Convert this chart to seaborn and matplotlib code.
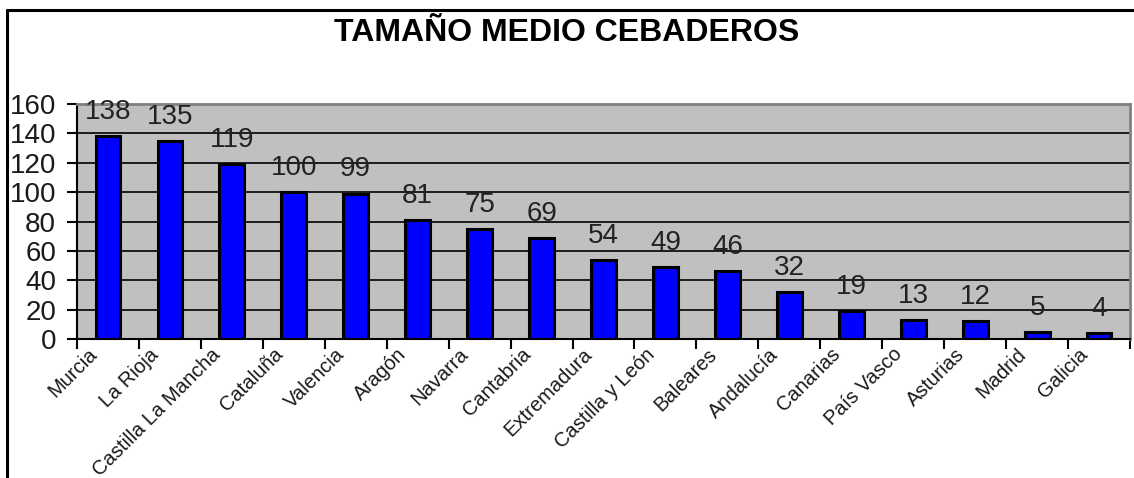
import numpy as np
import pandas as pd
import matplotlib
matplotlib.use('Agg')
import matplotlib.pyplot as plt
import matplotlib.transforms as mtransforms
from matplotlib.lines import Line2D
import seaborn as sns

# data
regiones = ['Murcia', 'La Rioja', 'Castilla La Mancha', 'Cataluña', 'Valencia',
            'Aragón', 'Navarra', 'Cantabria', 'Extremadura', 'Castilla y León',
            'Baleares', 'Andalucía', 'Canarias', 'País Vasco', 'Asturias',
            'Madrid', 'Galicia']
tamano = [138, 135, 119, 100, 99, 81, 75, 69, 54, 49, 46, 32, 19, 13, 12, 5, 4]
yticks = [0, 20, 40, 60, 80, 100, 120, 140, 160]

df = pd.DataFrame({'region': regiones, 'tamano': tamano})

sns.set_theme(style='white')
plt.rcParams['font.family'] = ['Liberation Sans', 'DejaVu Sans']

fig = plt.figure(figsize=(11.34, 4.78), dpi=100)
ax = fig.add_axes([0.0679, 0.2908, 0.9286, 0.4916])

sns.barplot(data=df, x='region', y='tamano', color='#0000ff', saturation=1,
            edgecolor='black', linewidth=2.2, width=0.4, ax=ax)

ax.bar_label(ax.containers[0], labels=[str(v) for v in tamano],
             padding=8, fontsize=20, color='#222222')

ax.set_facecolor('#c0c0c0')
ax.set_xlim(-0.5, len(regiones) - 0.5)
ax.set_ylim(0, 160)
ax.set_yticks(yticks)
ax.set_yticklabels([str(t) for t in yticks], fontsize=20, color='#1a1a1a')
ax.set_xlabel('')
ax.set_ylabel('')

# gridlines
ax.yaxis.grid(True, color='black', linewidth=1.2)
ax.set_axisbelow(True)

# spines
for s in ['left', 'bottom']:
    ax.spines[s].set_color('black')
    ax.spines[s].set_linewidth(1.5)
for s in ['top', 'right']:
    ax.spines[s].set_color('#808080')
    ax.spines[s].set_linewidth(2)

ax.tick_params(axis='y', which='major', direction='out', length=7, width=1.5,
               color='black', left=True, pad=8)

# x ticks on category boundaries, labels on centres
ax.set_xticks(np.arange(len(regiones)))
ax.set_xticks(np.arange(len(regiones) + 1) - 0.5, minor=True)
ax.tick_params(axis='x', which='major', length=0, pad=9)
ax.tick_params(axis='x', which='minor', direction='out', length=7, width=1.5,
               color='black', bottom=True)
ax.set_xticklabels(regiones, rotation=45, ha='right', va='center',
                   rotation_mode='anchor', fontsize=14.5, color='#1a1a1a')
offset = mtransforms.ScaledTranslation(-14 / 100, 0, fig.dpi_scale_trans)
for lab in ax.get_xticklabels():
    lab.set_transform(lab.get_transform() + offset)

# title
fig.text(0.5, 0.931, 'TAMAÑO MEDIO CEBADEROS', ha='center', va='center',
         fontsize=23, fontweight='bold', color='black')

# frame lines (left and top)
fig.add_artist(Line2D([0.0062, 0.0062], [0.0, 0.979], color='black',
                      linewidth=2.2, transform=fig.transFigure))
fig.add_artist(Line2D([0.0062, 1.0], [0.979, 0.979], color='black',
                      linewidth=2.2, transform=fig.transFigure))

fig.savefig('out.png', dpi=100)
